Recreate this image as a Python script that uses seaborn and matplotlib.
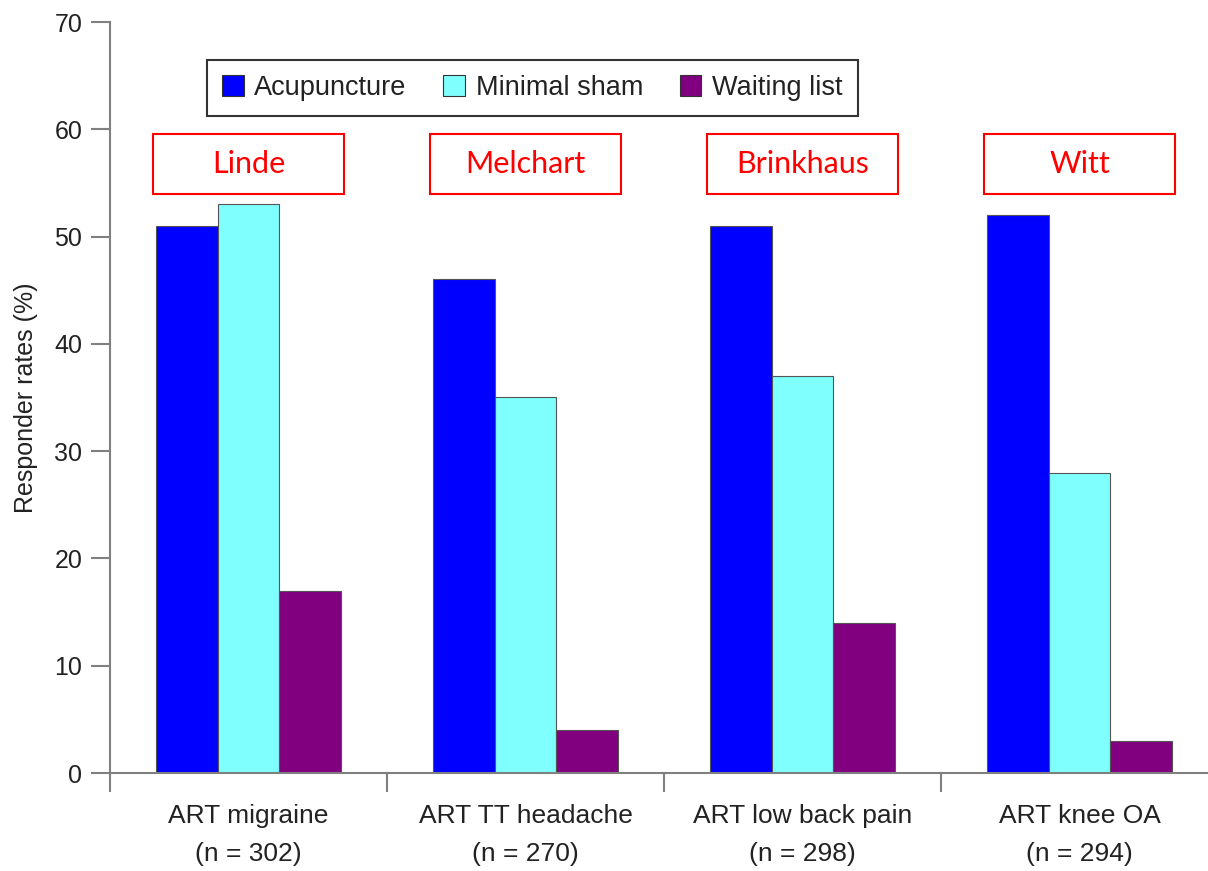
import pandas as pd
import matplotlib.pyplot as plt
import seaborn as sns
from matplotlib.patches import Rectangle

# data
categories = ['ART migraine\n(n = 302)', 'ART TT headache\n(n = 270)',
              'ART low back pain\n(n = 298)', 'ART knee OA\n(n = 294)']
trials = ['Linde', 'Melchart', 'Brinkhaus', 'Witt']
groups = ['Acupuncture', 'Minimal sham', 'Waiting list']
acupuncture = [51, 46, 51, 52]
minimal_sham = [53, 35, 37, 28]
waiting_list = [17, 4, 14, 3]

colors = {'Acupuncture': '#0000FF', 'Minimal sham': '#80FFFF', 'Waiting list': '#800080'}

df = pd.DataFrame({
    'Study': categories * 3,
    'Group': [g for g in groups for _ in categories],
    'Rate': acupuncture + minimal_sham + waiting_list,
})

sns.set_style('white')
plt.rcParams['font.family'] = ['Liberation Sans', 'DejaVu Sans']

fig = plt.figure(figsize=(12.08, 8.71), dpi=100)
ax = fig.add_axes([110 / 1208, 1 - 773 / 871, 1098 / 1208, 751 / 871])

sns.barplot(data=df, x='Study', y='Rate', hue='Group', order=categories,
            hue_order=groups, palette=colors, saturation=1, width=0.67, gap=0,
            edgecolor='#555555', linewidth=0.8, ax=ax)

ax.set_ylim(0, 70)
ax.set_xlim(-0.5, -0.5 + 1098 / 277)
ax.set_yticks(range(0, 71, 10))
ax.tick_params(axis='y', labelsize=18, length=14, width=1.5, color='#808080',
               direction='out', pad=6, left=True, labelcolor='#222222')

# separators as major ticks, category names as minor ticks
ax.set_xticks([-0.5, 0.5, 1.5, 2.5])
ax.set_xticklabels([])
ax.set_xticks(range(len(categories)), minor=True)
ax.set_xticklabels(categories, minor=True, fontsize=19, linespacing=1.75,
                   color='#222222')
ax.tick_params(axis='x', which='major', length=14, width=1.5, color='#808080',
               direction='out', bottom=True)
ax.tick_params(axis='x', which='minor', length=0, pad=22)

ax.set_xlabel('')
ax.set_ylabel('Responder rates (%)', fontsize=18, labelpad=12, color='#222222')

for s in ['top', 'right']:
    ax.spines[s].set_visible(False)
for s in ['left', 'bottom']:
    ax.spines[s].set_color('#808080')
    ax.spines[s].set_linewidth(1.5)

# red trial name boxes
for i, name in enumerate(trials):
    ax.add_patch(Rectangle((i - 0.345, 54.0), 0.69, 5.6, fill=False,
                           edgecolor='red', linewidth=1.5, zorder=5))
    ax.text(i, 56.8, name, color='red', fontsize=22, ha='center', va='center',
            family=['Lato', 'DejaVu Sans'])

leg = ax.legend(loc='upper left', bbox_to_anchor=(0.0883, 0.949), borderaxespad=0,
                ncol=3, fontsize=19.5, frameon=True, fancybox=False,
                handlelength=0.8, handleheight=0.8, handletextpad=0.4,
                columnspacing=1.35, borderpad=0.55, labelcolor='#222222')
leg.get_frame().set_edgecolor('black')
leg.get_frame().set_linewidth(1.5)
for h in leg.legend_handles:
    h.set_edgecolor('#333333')

fig.savefig('out.png', dpi=100)
